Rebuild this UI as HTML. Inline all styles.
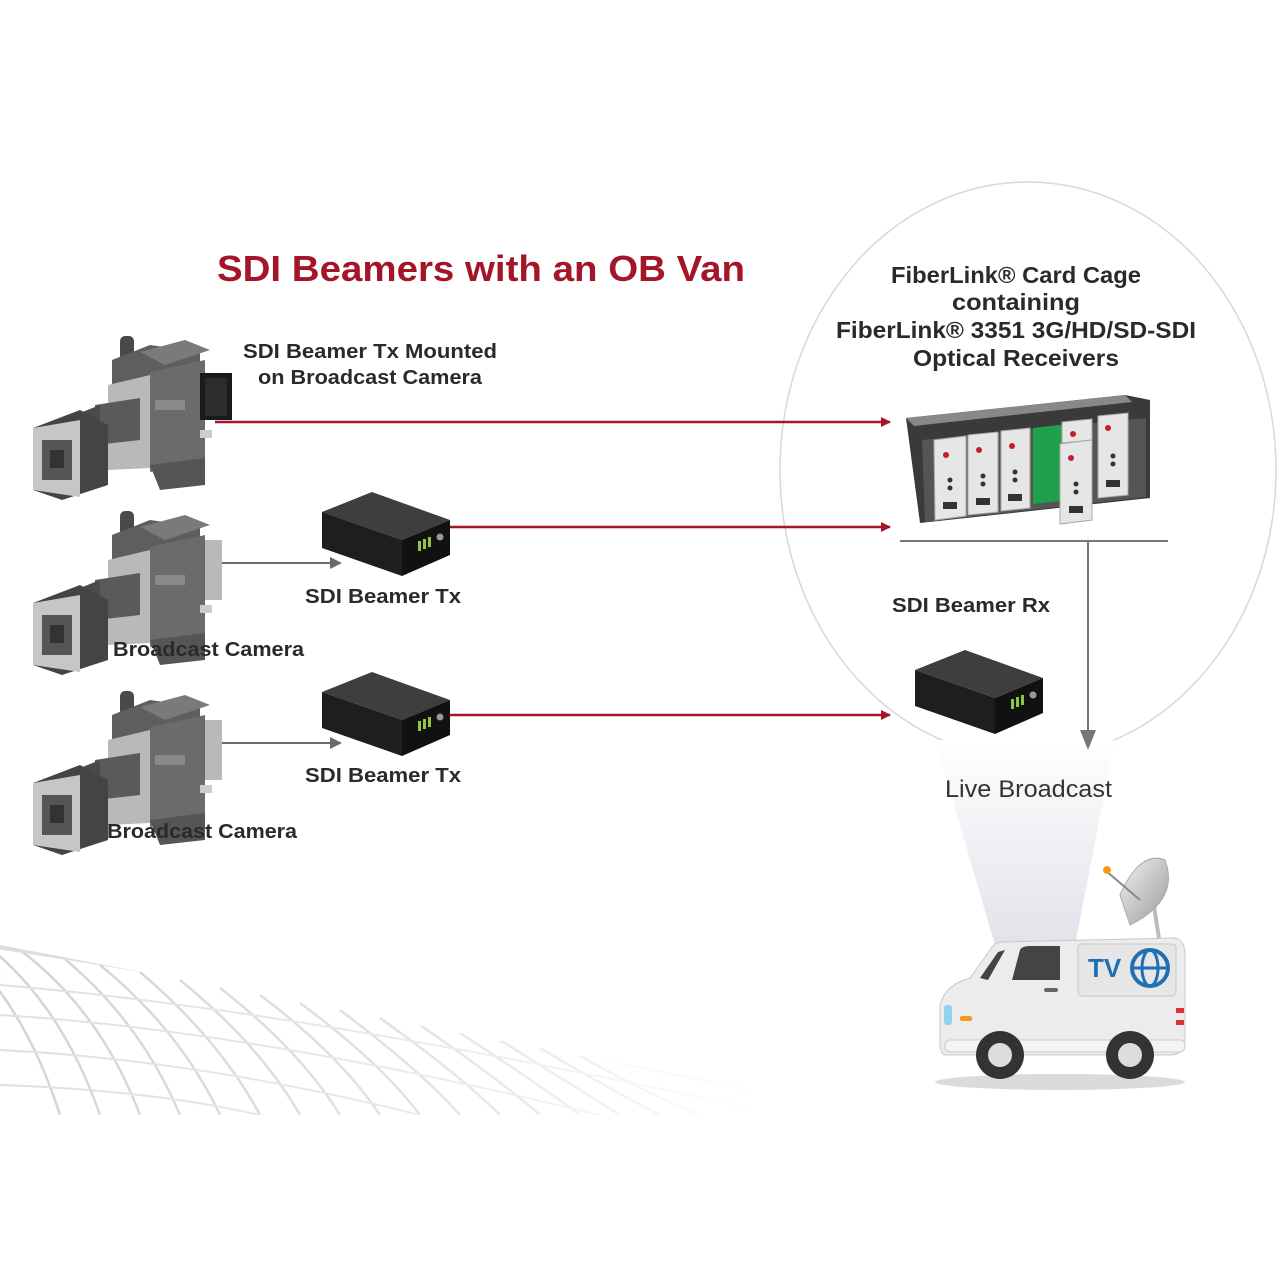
<!DOCTYPE html>
<html><head><meta charset="utf-8"><style>html,body{margin:0;padding:0;background:#fff}svg{display:block}</style></head>
<body>
<svg width="1280" height="1280" viewBox="0 0 1280 1280" xmlns="http://www.w3.org/2000/svg" font-family="Liberation Sans, sans-serif">
<defs>
<linearGradient id="fade" x1="0" x2="1" y1="0" y2="0"><stop offset="0" stop-color="#fff" stop-opacity="0"/><stop offset="0.55" stop-color="#fff" stop-opacity="0.35"/><stop offset="1" stop-color="#fff" stop-opacity="1"/></linearGradient>
<linearGradient id="beam" x1="0" x2="0" y1="0" y2="1"><stop offset="0" stop-color="#fff"/><stop offset="1" stop-color="#e2e2ea"/></linearGradient>
<linearGradient id="dish" x1="0" x2="1" y1="0" y2="1"><stop offset="0" stop-color="#f2f2f2"/><stop offset="1" stop-color="#9a9a9a"/></linearGradient>
<clipPath id="mesh"><polygon points="0,945 760,1090 760,1115 0,1115"/></clipPath>
<marker id="ar" markerWidth="10" markerHeight="10" refX="9" refY="5" orient="auto" markerUnits="userSpaceOnUse"><path d="M0,0 L10,5 L0,10 z" fill="#a3162a"/></marker>
<g id="cam">
  <rect x="120" y="336" width="14" height="26" rx="5" fill="#4a4a4a"/>
  <polygon points="112,360 150,345 200,352 200,390 112,395" fill="#5e5e5e"/>
  <polygon points="140,352 185,340 210,350 165,365" fill="#7a7a7a"/>
  <polygon points="108,385 150,375 150,468 108,470" fill="#b9b9b9"/>
  <polygon points="150,372 205,360 205,462 150,472" fill="#6b6b6b"/>
  <rect x="155" y="400" width="30" height="10" fill="#8a8a8a"/>
  <polygon points="150,465 205,458 205,485 160,490" fill="#555"/>
  <rect x="200" y="430" width="12" height="8" fill="#ccc"/>
  <polygon points="95,405 140,398 140,440 95,445" fill="#5a5a5a"/>
  <polygon points="75,415 100,405 100,448 75,465" fill="#4a4a4a"/>
  <polygon points="33,428 80,410 108,425 108,485 62,500 33,490" fill="#444"/>
  <polygon points="33,428 80,420 80,497 33,490" fill="#c6c6c6"/>
  <rect x="42" y="440" width="30" height="40" fill="#555"/>
  <rect x="50" y="450" width="14" height="18" fill="#333"/>
</g>
<g id="box">
  <polygon points="322,512 372,492 450,520 402,540" fill="#3e3e3e"/>
  <polygon points="322,512 402,540 402,576 322,548" fill="#1e1e1e"/>
  <polygon points="402,540 450,520 450,555 402,576" fill="#111"/>
  <rect x="418" y="541" width="3" height="10" fill="#8ec63f"/><rect x="423" y="539" width="3" height="10" fill="#8ec63f"/><rect x="428" y="537" width="3" height="10" fill="#8ec63f"/>
  <circle cx="440" cy="537" r="3.5" fill="#999"/>
</g>
</defs>
<rect width="1280" height="1280" fill="#fff"/>

<!-- mesh -->
<g clip-path="url(#mesh)" fill="none" stroke="#d4d4d4" stroke-width="2.5">
  <path d="M-60 930 Q20 990 60 1115"/><path d="M-20 940 Q60 1000 100 1115"/><path d="M20 950 Q100 1010 140 1115"/>
  <path d="M60 955 Q140 1020 180 1115"/><path d="M100 965 Q180 1030 220 1115"/><path d="M140 972 Q220 1040 260 1115"/>
  <path d="M180 980 Q260 1045 300 1115"/><path d="M220 988 Q300 1050 340 1115"/><path d="M260 995 Q340 1055 380 1115"/>
  <path d="M300 1003 Q380 1062 420 1115"/><path d="M340 1010 Q420 1070 460 1115"/><path d="M380 1018 Q460 1075 500 1115"/>
  <path d="M420 1025 Q500 1080 540 1115"/><path d="M460 1033 Q540 1085 580 1115"/><path d="M500 1040 Q580 1090 620 1115"/>
  <path d="M540 1048 Q620 1095 660 1115"/><path d="M580 1056 Q660 1100 700 1115"/>
  <g stroke="#e0e0e0" stroke-width="2">
  <path d="M0 975 Q-20 1040 -40 1115"/>
  <path d="M0 985 Q300 1010 760 1110"/><path d="M0 1015 Q250 1030 600 1115"/>
  <path d="M0 1050 Q200 1060 420 1115"/><path d="M0 1085 Q150 1090 260 1115"/>
  </g>
  <path d="M0 947 Q350 1000 760 1092" stroke="#dcdcdc" stroke-width="5"/>
</g>
<rect x="0" y="930" width="760" height="190" fill="url(#fade)"/>

<!-- ellipse & beam -->
<ellipse cx="1028" cy="470" rx="248" ry="288" fill="none" stroke="#d8d8d8" stroke-width="1.5"/>
<polygon points="935,740 1115,740 1075,945 995,945" fill="url(#beam)"/>

<!-- cameras -->
<use href="#cam"/>
<rect x="200" y="373" width="32" height="47" fill="#1a1a1a"/>
<rect x="205" y="378" width="22" height="38" fill="#2c2c2c"/>
<use href="#cam" transform="translate(0,175)"/>
<rect x="205" y="540" width="17" height="60" fill="#b9b9b9"/>
<use href="#cam" transform="translate(0,355)"/>
<rect x="205" y="720" width="17" height="60" fill="#b9b9b9"/>

<!-- boxes -->
<use href="#box"/>
<use href="#box" transform="translate(0,180)"/>
<use href="#box" transform="translate(593,158)"/>

<!-- connectors -->
<g stroke="#a3162a" stroke-width="2.5" fill="none">
  <line x1="215" y1="422" x2="890" y2="422" marker-end="url(#ar)"/>
  <line x1="450" y1="527" x2="890" y2="527" marker-end="url(#ar)"/>
  <line x1="450" y1="715" x2="890" y2="715" marker-end="url(#ar)"/>
</g>
<g stroke="#6a6a6a" stroke-width="2" fill="#6a6a6a">
  <line x1="222" y1="563" x2="332" y2="563"/><path d="M330,557 L342,563 L330,569 z" stroke="none"/>
  <line x1="222" y1="743" x2="332" y2="743"/><path d="M330,737 L342,743 L330,749 z" stroke="none"/>
  <line x1="900" y1="541" x2="1168" y2="541" stroke="#777"/>
  <line x1="1088" y1="541" x2="1088" y2="740" stroke="#777"/>
  <path d="M1080,730 L1088,750 L1096,730 z" fill="#777" stroke="none"/>
</g>

<!-- card cage -->
<polygon points="906,418 1125,395 1150,400 1150,498 920,523" fill="#3a3a3a"/>
<polygon points="906,418 1125,395 1132,402 914,426" fill="#888"/>
<polygon points="922,440 1146,418 1146,497 925,522" fill="#555"/>
<polygon points="1033,428 1068,424 1068,500 1033,504" fill="#1fa04a"/>
<g fill="#e6e6e6" stroke="#aaa" stroke-width="1">
  <polygon points="934,440 966,436 966,516 935,520"/>
  <polygon points="968,435 998,432 998,512 968,515"/>
  <polygon points="1001,431 1030,428 1030,508 1001,511"/>
  <polygon points="1062,422 1092,419 1092,440 1062,443"/>
  <polygon points="1098,416 1128,413 1128,495 1098,498"/>
  <polygon points="1060,444 1092,440 1092,520 1060,524"/>
</g>
<g fill="#c41e2e"><circle cx="946" cy="455" r="3"/><circle cx="979" cy="450" r="3"/><circle cx="1012" cy="446" r="3"/><circle cx="1073" cy="434" r="3"/><circle cx="1108" cy="428" r="3"/><circle cx="1071" cy="458" r="3"/></g>
<g fill="#333"><circle cx="950" cy="480" r="2.5"/><circle cx="950" cy="488" r="2.5"/><circle cx="983" cy="476" r="2.5"/><circle cx="983" cy="484" r="2.5"/><circle cx="1015" cy="472" r="2.5"/><circle cx="1015" cy="480" r="2.5"/><circle cx="1113" cy="456" r="2.5"/><circle cx="1113" cy="464" r="2.5"/><circle cx="1076" cy="484" r="2.5"/><circle cx="1076" cy="492" r="2.5"/>
<rect x="943" y="502" width="14" height="7"/><rect x="976" y="498" width="14" height="7"/><rect x="1008" y="494" width="14" height="7"/><rect x="1106" y="480" width="14" height="7"/><rect x="1069" y="506" width="14" height="7"/></g>

<!-- van -->
<ellipse cx="1060" cy="1082" rx="125" ry="8" fill="#ccc" opacity="0.7"/>
<line x1="1153" y1="900" x2="1160" y2="945" stroke="#bbb" stroke-width="4"/>
<path d="M1120 895 Q1140 850 1165 860 Q1180 900 1130 925 z" fill="url(#dish)" stroke="#aaa"/>
<line x1="1105" y1="870" x2="1140" y2="900" stroke="#888" stroke-width="2"/>
<circle cx="1107" cy="870" r="4" fill="#f39a1e"/>
<path d="M1000 942 L1175 938 Q1185 940 1185 955 L1185 1040 Q1185 1055 1170 1055 L945 1055 Q940 1055 940 1040 L940 1005 Q945 985 970 978 L990 950 Q994 943 1000 942 z" fill="#ececec" stroke="#c8c8c8"/>
<path d="M980 978 L998 952 L1005 950 L988 980 z" fill="#444"/>
<path d="M1012 980 L1020 950 Q1022 946 1030 946 L1060 946 L1060 980 z" fill="#444"/>
<rect x="1078" y="944" width="98" height="52" rx="4" fill="#e6e6e6" stroke="#c8c8c8"/>
<text x="1088" y="977" font-size="26" font-weight="bold" fill="#1f6fb5">TV</text>
<circle cx="1150" cy="968" r="18" fill="none" stroke="#1f6fb5" stroke-width="4"/>
<ellipse cx="1150" cy="968" rx="8" ry="18" fill="none" stroke="#1f6fb5" stroke-width="3"/>
<line x1="1132" y1="968" x2="1168" y2="968" stroke="#1f6fb5" stroke-width="3"/>
<rect x="1044" y="988" width="14" height="4" rx="2" fill="#666"/>
<rect x="944" y="1005" width="8" height="20" rx="3" fill="#8fd3ef"/>
<rect x="960" y="1016" width="12" height="5" rx="2" fill="#f39a1e"/>
<rect x="1176" y="1008" width="8" height="5" fill="#d33"/><rect x="1176" y="1020" width="8" height="5" fill="#d33"/>
<rect x="945" y="1040" width="240" height="12" rx="5" fill="#f4f4f4" stroke="#ccc"/>
<circle cx="1000" cy="1055" r="24" fill="#333"/><circle cx="1000" cy="1055" r="12" fill="#ddd"/>
<circle cx="1130" cy="1055" r="24" fill="#333"/><circle cx="1130" cy="1055" r="12" fill="#ddd"/>

<!-- text (on top) -->
<text x="217" y="281" font-size="36" font-weight="bold" fill="#a3162a" textLength="528" lengthAdjust="spacingAndGlyphs">SDI Beamers with an OB Van</text>
<g font-weight="bold" fill="#2a2a2a" font-size="23" text-anchor="middle">
  <text x="1016" y="283" textLength="250" lengthAdjust="spacingAndGlyphs">FiberLink® Card Cage</text>
  <text x="1016" y="310" textLength="128" lengthAdjust="spacingAndGlyphs">containing</text>
  <text x="1016" y="338" textLength="360" lengthAdjust="spacingAndGlyphs">FiberLink® 3351 3G/HD/SD-SDI</text>
  <text x="1016" y="366" textLength="206" lengthAdjust="spacingAndGlyphs">Optical Receivers</text>
</g>
<g font-weight="bold" fill="#2a2a2a" font-size="20">
  <text x="243" y="358" textLength="254" lengthAdjust="spacingAndGlyphs">SDI Beamer  Tx Mounted</text>
  <text x="258" y="384" textLength="224" lengthAdjust="spacingAndGlyphs">on Broadcast Camera</text>
  <text x="305" y="603" textLength="156" lengthAdjust="spacingAndGlyphs">SDI Beamer  Tx</text>
  <text x="113" y="656" textLength="191" lengthAdjust="spacingAndGlyphs">Broadcast Camera</text>
  <text x="305" y="782" textLength="156" lengthAdjust="spacingAndGlyphs">SDI Beamer  Tx</text>
  <text x="107" y="838" textLength="190" lengthAdjust="spacingAndGlyphs">Broadcast Camera</text>
  <text x="892" y="612" textLength="158" lengthAdjust="spacingAndGlyphs">SDI Beamer  Rx</text>
</g>
<text x="945" y="797" font-size="24" fill="#333" textLength="167" lengthAdjust="spacingAndGlyphs">Live Broadcast</text>
</svg>
</body></html>
